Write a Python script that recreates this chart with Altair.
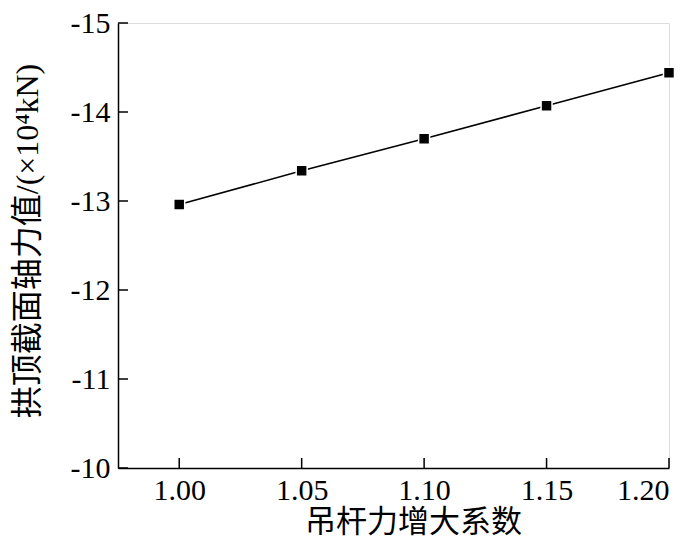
import altair as alt
import pandas as pd

factor = [1.00, 1.05, 1.10, 1.15, 1.20]
axial = [-12.96, -13.34, -13.70, -14.07, -14.44]
x_ticks = [1.00, 1.05, 1.10, 1.15, 1.20]
y_ticks = [-15, -14, -13, -12, -11, -10]

df = pd.DataFrame({"f": factor, "v": axial})
xt = pd.DataFrame({"t": x_ticks})
yt = pd.DataFrame({"t": y_ticks})

W, H = 551, 445
NUMFONT = "Times New Roman, Liberation Serif, serif"
CJKFONT = "Times New Roman, Liberation Serif, Noto Sans CJK SC, serif"
xscale = alt.Scale(domain=[0.975, 1.20], nice=False, zero=False)
yscale = alt.Scale(domain=[-15, -10], reverse=True, nice=False, zero=False)

xaxis = alt.Axis(values=x_ticks, format=".2f", title="吊杆力增大系数", grid=False,
                 tickSize=0, labelPadding=7, titlePadding=2, domainColor="black",
                 domainWidth=1.5, labelFont=NUMFONT, titleFont=CJKFONT, labelFontSize=30,
                 titleFontSize=31, labelColor="black", titleColor="black",
                 titleFontWeight="normal", labelFlush=21,
                 titleX=295, titleAlign="center", titleAnchor="start")
yaxis = alt.Axis(values=y_ticks, labelExpr="'' + datum.value", title="拱顶截面轴力值/(×10⁴kN)",
                 grid=False, tickSize=0, labelPadding=8, domainColor="black",
                 domainWidth=1.5, labelFont=NUMFONT, titleFont=CJKFONT, labelFontSize=30,
                 titleFontSize=32, labelColor="black", titleColor="black",
                 titleFontWeight="normal", titleX=-91, titleY=H / 2 - 5,
                 titleAlign="center", titleBaseline="middle", titleAngle=270)

base = alt.Chart(df)
line = base.mark_line(color="black", strokeWidth=1.5).encode(
    x=alt.X("f:Q", scale=xscale, axis=xaxis),
    y=alt.Y("v:Q", scale=yscale, axis=yaxis),
)
pts = base.mark_point(shape="square", filled=True, color="black", size=120, opacity=1,
                      stroke="white", strokeWidth=1.5).encode(
    x=alt.X("f:Q", scale=xscale),
    y=alt.Y("v:Q", scale=yscale),
)
xtick = alt.Chart(xt).mark_rule(color="black", strokeWidth=1.5).encode(
    x=alt.X("t:Q", scale=xscale),
    y=alt.value(H), y2=alt.value(H - 10),
)
ytick = alt.Chart(yt).mark_rule(color="black", strokeWidth=1.5).encode(
    y=alt.Y("t:Q", scale=yscale),
    x=alt.value(0), x2=alt.value(10),
)

chart = alt.layer(xtick, ytick, line, pts).properties(
    width=W, height=H,
    autosize=alt.AutoSizeParams(type="none"),
    padding={"left": 110, "top": 15, "right": 23, "bottom": 72},
).configure_view(stroke=None).configure(background="white")

chart.save("out.html", embed_options={"renderer": "svg", "actions": False})
